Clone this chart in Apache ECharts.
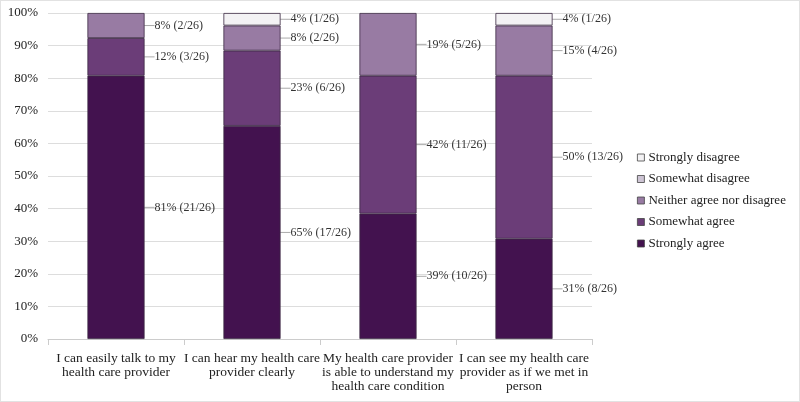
<!DOCTYPE html>
<html>
<head>
<meta charset="utf-8">
<script src="https://cdn.jsdelivr.net/npm/echarts@6/dist/echarts.min.js"></script>
<style>
  html, body { margin: 0; padding: 0; background: #fff; }
  #chart { width: 798px; height: 400px; border: 1px solid #e2e2e2; }
</style>
</head>
<body>
<div id="chart"></div>
<script>
// categories (line breaks as in the picture)
const categories = [
  'I can easily talk to my\nhealth care provider',
  'I can hear my health care\nprovider clearly',
  'My health care provider\nis able to understand my\nhealth care condition',
  'I can see my health care\nprovider as if we met in\nperson'
];
const total = 26;
// counts out of 26
const stronglyAgree = [21, 17, 10, 8];
const somewhatAgree = [3, 6, 11, 13];
const neither = [2, 2, 5, 4];
const somewhatDisagree = [0, 0, 0, 0];
const stronglyDisagree = [0, 1, 0, 1];
// percentages printed in the labels
const stronglyAgreePct = [81, 65, 39, 31];
const somewhatAgreePct = [12, 23, 42, 50];
const neitherPct = [8, 8, 19, 15];
const somewhatDisagreePct = [0, 0, 0, 0];
const stronglyDisagreePct = [0, 4, 0, 4];

const seriesDefs = [
  { name: 'Strongly agree', counts: stronglyAgree, pct: stronglyAgreePct, color: '#43124f' },
  { name: 'Somewhat agree', counts: somewhatAgree, pct: somewhatAgreePct, color: '#6b3d78' },
  { name: 'Neither agree nor disagree', counts: neither, pct: neitherPct, color: '#987ba3' },
  { name: 'Somewhat disagree', counts: somewhatDisagree, pct: somewhatDisagreePct, color: '#cdc4d4' },
  { name: 'Strongly disagree', counts: stronglyDisagree, pct: stronglyDisagreePct, color: '#f3f2f4' }
];

const font = 'Liberation Serif';

const chart = echarts.init(document.getElementById('chart'));

const series = seriesDefs.map(s => ({
  name: s.name,
  type: 'bar',
  stack: 'all',
  barWidth: '42%',
  // empty segments are left out so they draw no border
  data: s.counts.map((c, i) => c === 0 ? '-' : { value: c / total * 100, count: c, pct: s.pct[i] }),
  itemStyle: { color: s.color, borderColor: '#3b2a42', borderWidth: 0.8 },
  label: {
    show: true,
    position: 'right',
    distance: 2,
    fontFamily: font,
    fontSize: 12,
    color: '#333',
    formatter: p => p.data.pct + '% (' + p.data.count + '/' + total + ')'
  },
  labelLayout: { dx: 8 },
  labelLine: { show: true, lineStyle: { color: '#aaa', width: 1 } }
}));

const option = {
  animation: false,
  textStyle: { fontFamily: font },
  grid: { left: 47, right: 207, top: 12, bottom: 62 },
  legend: {
    orient: 'vertical',
    left: 636,
    top: 150,
    padding: 0,
    icon: 'rect',
    itemWidth: 7,
    itemHeight: 7,
    itemGap: 8.5,
    data: seriesDefs.map(s => s.name).reverse(),
    textStyle: { fontFamily: font, fontSize: 13, color: '#222', padding: [0, 0, 0, -1] },
    itemStyle: { borderColor: '#444', borderWidth: 0.8 }
  },
  xAxis: {
    type: 'category',
    data: categories,
    axisLine: { lineStyle: { color: '#ccc' } },
    axisTick: { show: true, length: 6, lineStyle: { color: '#ccc' } },
    axisLabel: { interval: 0, fontFamily: font, fontSize: 13.5, color: '#222', lineHeight: 14, margin: 12 }
  },
  yAxis: {
    type: 'value',
    min: 0,
    max: 100,
    interval: 10,
    axisLine: { show: false },
    axisTick: { show: false },
    splitLine: { lineStyle: { color: '#ddd' } },
    axisLabel: { fontFamily: font, fontSize: 13, color: '#222', formatter: '{value}%', margin: 10 }
  },
  series: series
};

chart.setOption(option);
</script>
</body>
</html>
